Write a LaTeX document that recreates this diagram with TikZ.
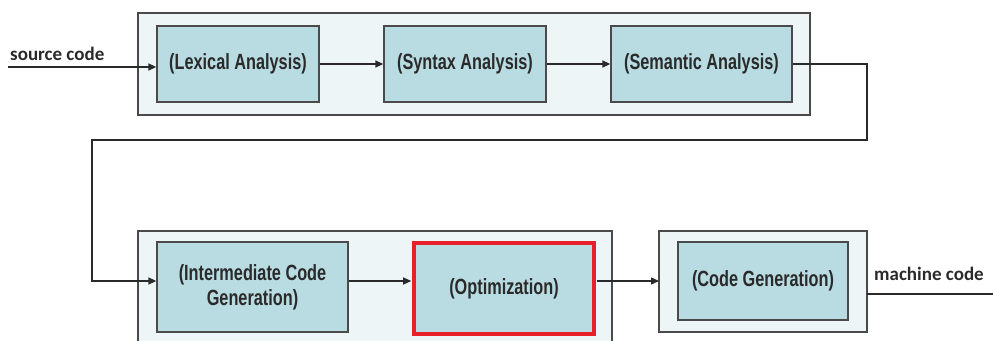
\documentclass[tikz,border=0pt]{standalone}
\usepackage{fontspec}
\usetikzlibrary{arrows.meta,positioning}
\newfontfamily\stagefont[FakeStretch=0.74]{Liberation Sans}
\newfontfamily\labelfont{Carlito}
\definecolor{panelfill}{HTML}{EEF5F7}
\definecolor{stagefill}{HTML}{B8DCE2}
\definecolor{edge}{HTML}{4A4A4A}
\definecolor{ink}{HTML}{2A2A2A}
\definecolor{hilite}{HTML}{E8202A}
\tikzset{
  panel/.style={draw=edge, line width=1.4pt, fill=panelfill},
  stagebox/.style={draw=edge, line width=1.3pt, fill=stagefill, text=ink,
    font=\stagefont\bfseries\fontsize{22}{25}\selectfont, align=center, inner sep=0pt},
  flow/.style={draw=ink, line width=1.3pt, -{Triangle[length=8pt,width=7pt]}},
  wire/.style={draw=ink, line width=1.3pt},
  iolabel/.style={font=\labelfont\bfseries\fontsize{19}{22}\selectfont, text=ink, inner sep=0pt}
}
\begin{document}
\begin{tikzpicture}[x=1pt,y=-1pt]
  \useasboundingbox (0,0) rectangle (993,340);
  \clip (0,0) rectangle (993,340);

  % panels
  \draw[panel] (138,13) rectangle (810,115);
  \draw[panel] (138,231) rectangle (612,360);
  \draw[panel] (659,231) rectangle (867,332);

  % front end stages
  \node[stagebox, minimum width=162pt, minimum height=76pt] (lex) at (238,64) {(Lexical Analysis)};
  \node[stagebox, minimum width=162pt, minimum height=76pt] (syn) at (465,64) {(Syntax Analysis)};
  \node[stagebox, minimum width=181pt, minimum height=76pt] (sem) at (701.5,64) {(Semantic Analysis)};

  % back end stages
  \node[stagebox, minimum width=191pt, minimum height=90pt] (icg) at (252.5,287) {(Intermediate Code\\Generation)};
  \node[stagebox, draw=hilite, line width=3.6pt, minimum width=180pt, minimum height=91pt] (opt) at (504,288.5) {(Optimization)};
  \node[stagebox, minimum width=170pt, minimum height=78pt] (cg) at (763,281) {(Code Generation)};
  \coordinate (cgpanel) at (867,294);

  % inputs and outputs
  \coordinate (srcin) at (8,67);
  \coordinate (mcout) at (993,294);
  \node[iolabel, anchor=west] (src) at (10,54) {source code};
  \node[iolabel, anchor=west] (mc) at (874,274) {machine code};

  % bend points of the return path
  \coordinate (r1) at (867,64);
  \coordinate (r2) at (867,140);
  \coordinate (r3) at (92,140);
  \coordinate (r4) at (92,281);
  \coordinate (row) at (0,281);

  % connectors
  \draw[flow] (srcin) -- (lex.west |- srcin);
  \draw[flow] (lex.east) -- (syn.west);
  \draw[flow] (syn.east) -- (sem.west);
  \draw[flow] (sem.east) -- (r1) -- (r2) -- (r3) -- (r4) -- (icg.west |- row);
  \draw[flow] (icg.east |- row) -- ([xshift=-1pt]opt.west |- row);
  \draw[flow] ([xshift=1pt]opt.east |- row) -- (659,281);
  \draw[wire] (cgpanel) -- (mcout);
\end{tikzpicture}
\end{document}
